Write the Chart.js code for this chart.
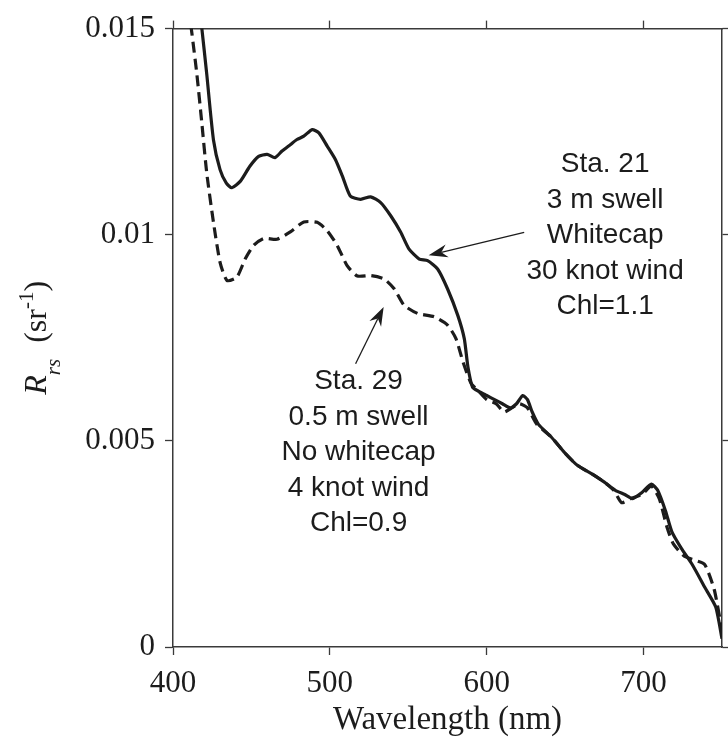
<!DOCTYPE html>
<html>
<head>
<meta charset="utf-8">
<title>Rrs spectra</title>
<script src="https://cdn.jsdelivr.net/npm/chart.js@4.4.0/dist/chart.umd.min.js"></script>
<style>
  html, body { margin: 0; padding: 0; background: #fff; }
  #wrap { width: 728px; height: 747px; }
</style>
</head>
<body>
<div id="wrap"><canvas id="rrsChart" width="728" height="747"></canvas></div>
<script>
// Sta. 21 (solid line)
const sta21Wavelength = [416, 418.4, 421.5, 425.8, 430, 434, 437.5, 443, 449, 454.6, 460, 465, 469.5, 475, 479, 483.4, 488.7, 493, 498.3, 503.6, 508, 513, 519.6, 526, 532.4, 538.8, 545.2, 550.5, 557, 562.3, 568.7, 575, 581.5, 585.7, 588, 591, 595, 600, 605, 610, 615, 619, 623, 626, 629, 633, 641, 650, 658, 667, 675, 682, 688, 693, 699, 705, 709, 714, 718, 724, 731, 739, 746, 750];
const sta21Rrs = [0.0158, 0.0150, 0.0139, 0.0123, 0.01158, 0.01125, 0.01114, 0.0113, 0.01166, 0.0119, 0.01195, 0.01187, 0.01203, 0.01219, 0.01231, 0.01239, 0.01255, 0.01247, 0.01215, 0.01182, 0.01142, 0.01094, 0.01086, 0.01092, 0.01078, 0.01046, 0.01006, 0.00965, 0.00941, 0.00937, 0.00917, 0.00869, 0.00805, 0.00748, 0.0068, 0.0063, 0.0062, 0.0061, 0.0060, 0.0059, 0.0058, 0.0059, 0.0061, 0.0060, 0.0057, 0.0054, 0.0051, 0.0047, 0.0044, 0.0042, 0.0040, 0.0038, 0.0037, 0.0036, 0.00375, 0.00395, 0.0038, 0.0033, 0.0028, 0.0024, 0.0020, 0.00145, 0.00097, 0.0002];

// Sta. 29 (dashed line)
const sta29Wavelength = [410, 412, 415.2, 418.4, 421.5, 425.8, 430, 434.4, 440.7, 446, 451.4, 457.8, 466.3, 474.8, 483.4, 491.9, 498.3, 504.7, 511, 517.5, 526, 534.5, 541, 547.3, 556, 566.5, 575, 580.4, 585, 590, 595, 600, 606, 611, 616, 621, 626, 632, 641, 650, 658, 667, 675, 681, 686, 692, 699, 705, 710, 715, 719, 726, 733, 739, 745, 750];
const sta29Rrs = [0.0155, 0.0149, 0.0139, 0.0127, 0.0115, 0.0103, 0.00933, 0.00889, 0.00897, 0.00941, 0.00974, 0.00991, 0.00989, 0.01007, 0.01031, 0.0103, 0.0101, 0.00974, 0.00925, 0.0090, 0.00901, 0.00893, 0.00869, 0.00829, 0.00809, 0.00801, 0.00781, 0.00748, 0.0069, 0.0064, 0.0062, 0.0060, 0.0059, 0.0057, 0.0058, 0.0059, 0.0058, 0.0054, 0.0051, 0.0047, 0.0044, 0.0042, 0.0040, 0.0038, 0.0035, 0.0036, 0.0037, 0.0039, 0.0036, 0.0029, 0.0025, 0.0022, 0.0021, 0.0020, 0.0014, 0.0004];

const xTicks = [400, 500, 600, 700];
const yTicks = [0, 0.005, 0.01, 0.015];

// Annotation text and where it sits (data units: wavelength, Rrs of first line)
const sta21Note = ['Sta. 21', '3 m swell', 'Whitecap', '30 knot wind', 'Chl=1.1'];
const sta21NoteAt = [675.5, 0.0117];
const sta29Note = ['Sta. 29', '0.5 m swell', 'No whitecap', '4 knot wind', 'Chl=0.9'];
const sta29NoteAt = [518.3, 0.00644];

// Arrows: [fromX, fromY, toX, toY] in data units
const sta21Arrow = [623.9, 0.01006, 563.0, 0.0095];
const sta29Arrow = [516.4, 0.00687, 534.3, 0.00825];

const INK = '#1c1c1c';
const AXIS = '#3a3a3a';
const SERIF = '"Liberation Serif", "Times New Roman", serif';
const SANS = '"Liberation Sans", Arial, sans-serif';

function toPoints(xs, ys) {
    return xs.map((x, i) => ({ x: x, y: ys[i] }));
}

function fixedTicks(values) {
    return scale => { scale.ticks = values.map(v => ({ value: v })); };
}

function drawArrow(ctx, x0, y0, x1, y1) {
    const ang = Math.atan2(y1 - y0, x1 - x0);
    const len = 19, half = 6.5, notch = 13;
    ctx.beginPath();
    ctx.moveTo(x0, y0);
    ctx.lineTo(x1 - Math.cos(ang) * notch, y1 - Math.sin(ang) * notch);
    ctx.stroke();
    ctx.save();
    ctx.translate(x1, y1);
    ctx.rotate(ang);
    ctx.beginPath();
    ctx.moveTo(0, 0);
    ctx.lineTo(-len, -half);
    ctx.lineTo(-notch, 0);
    ctx.lineTo(-len, half);
    ctx.closePath();
    ctx.fill();
    ctx.restore();
}

// --- annotations + y axis title (needs sub/superscript) ---
const notesPlugin = {
    id: 'notes',
    afterDraw(chart) {
        const ctx = chart.ctx;
        const xs = chart.scales.x, ys = chart.scales.y;
        ctx.save();
        ctx.fillStyle = INK;
        ctx.strokeStyle = INK;
        ctx.font = '28px ' + SANS;
        ctx.textAlign = 'center';
        ctx.textBaseline = 'middle';

        [[sta21Note, sta21NoteAt], [sta29Note, sta29NoteAt]].forEach(([lines, at]) => {
            const cx = xs.getPixelForValue(at[0]);
            const cy = ys.getPixelForValue(at[1]);
            lines.forEach((t, i) => ctx.fillText(t, cx, cy + i * 35.5));
        });

        ctx.lineWidth = 1.3;
        [sta21Arrow, sta29Arrow].forEach(a => {
            drawArrow(ctx,
                xs.getPixelForValue(a[0]), ys.getPixelForValue(a[1]),
                xs.getPixelForValue(a[2]), ys.getPixelForValue(a[3]));
        });

        // R_rs (sr^-1), rotated
        const parts = [
            { t: 'R', f: 'italic 32px ' + SERIF, dy: 0 },
            { t: 'rs', f: 'italic 21px ' + SERIF, dy: 14 },
            { t: '  (sr', f: '32px ' + SERIF, dy: 0 },
            { t: '-1', f: '21px ' + SERIF, dy: -13 },
            { t: ')', f: '32px ' + SERIF, dy: 0 }
        ];
        let total = 0;
        parts.forEach(p => { ctx.font = p.f; p.w = ctx.measureText(p.t).width; total += p.w; });
        const midY = (chart.chartArea.top + chart.chartArea.bottom) / 2;
        ctx.translate(46, midY);
        ctx.rotate(-Math.PI / 2);
        ctx.textAlign = 'left';
        ctx.textBaseline = 'alphabetic';
        let px = -total / 2;
        parts.forEach(p => {
            ctx.font = p.f;
            ctx.fillText(p.t, px, p.dy);
            px += p.w;
        });
        ctx.restore();
    }
};

const gridBase = {
    drawOnChartArea: false,
    drawTicks: true,
    tickLength: 8,
    tickColor: AXIS,
    tickWidth: 1.3
};

const ctx = document.getElementById('rrsChart').getContext('2d');
const rrsChart = new Chart(ctx, {
    type: 'line',
    data: {
        datasets: [
            {
                label: 'Sta. 21',
                data: toPoints(sta21Wavelength, sta21Rrs),
                borderColor: INK,
                borderWidth: 3.2,
                pointRadius: 0,
                tension: 0.2,
                fill: false
            },
            {
                label: 'Sta. 29',
                data: toPoints(sta29Wavelength, sta29Rrs),
                borderColor: INK,
                borderWidth: 3.2,
                borderDash: [11, 6],
                pointRadius: 0,
                tension: 0.2,
                fill: false
            }
        ]
    },
    options: {
        responsive: false,
        animation: false,
        layout: { padding: 0 },
        plugins: {
            legend: { display: false },
            tooltip: { enabled: false }
        },
        scales: {
            x: {
                type: 'linear',
                position: 'bottom',
                min: 400,
                max: 750,
                afterBuildTicks: fixedTicks(xTicks),
                afterFit: s => { s.height = 100; },
                grid: gridBase,
                border: { display: true, color: AXIS, width: 1.5 },
                ticks: {
                    color: INK,
                    padding: 10,
                    maxRotation: 0,
                    font: { family: SERIF, size: 31 }
                },
                title: {
                    display: true,
                    text: 'Wavelength (nm)',
                    color: INK,
                    padding: { top: 0, bottom: 7 },
                    font: { family: SERIF, size: 33 }
                }
            },
            x2: {
                type: 'linear',
                axis: 'x',
                position: 'top',
                min: 400,
                max: 750,
                afterBuildTicks: fixedTicks(xTicks),
                afterFit: s => { s.height = 25; },
                grid: gridBase,
                border: { display: true, color: AXIS, width: 1.5 },
                ticks: { display: false }
            },
            y: {
                type: 'linear',
                position: 'left',
                min: 0,
                max: 0.015,
                afterBuildTicks: fixedTicks(yTicks),
                afterFit: s => { s.width = 173; },
                grid: gridBase,
                border: { display: true, color: AXIS, width: 1.5 },
                ticks: {
                    color: INK,
                    padding: 10,
                    font: { family: SERIF, size: 31 },
                    callback: v => v === 0 ? '0' : String(+v.toFixed(3))
                }
            },
            y2: {
                type: 'linear',
                axis: 'y',
                position: 'right',
                min: 0,
                max: 0.015,
                afterBuildTicks: fixedTicks(yTicks),
                afterFit: s => { s.width = 6; },
                grid: Object.assign({}, gridBase, { tickLength: 6 }),
                border: { display: true, color: AXIS, width: 1.5 },
                ticks: { display: false }
            }
        }
    },
    plugins: [notesPlugin]
});
</script>
</body>
</html>
